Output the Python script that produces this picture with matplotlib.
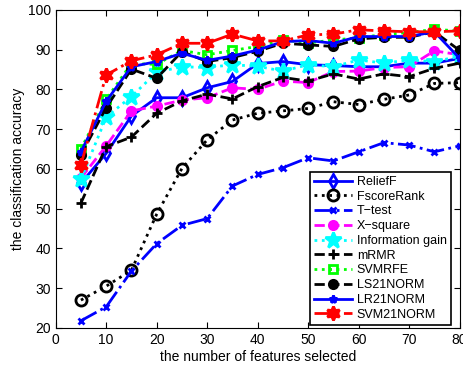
import matplotlib
matplotlib.use("Agg")
import matplotlib.pyplot as plt

plt.rcParams["font.family"] = ["Liberation Sans", "DejaVu Sans"]

n_features = [5, 10, 15, 20, 25, 30, 35, 40, 45, 50, 55, 60, 65, 70, 75, 80]

relieff = [56.4, 63.9, 73.3, 77.9, 77.9, 80.4, 82.0, 86.5, 87.0, 86.2, 86.0, 85.7, 85.7, 86.6, 86.6, 87.8]
fscore_rank = [27.0, 30.5, 34.5, 48.6, 60.1, 67.3, 72.3, 74.0, 74.6, 75.2, 76.9, 76.2, 77.5, 78.6, 81.5, 81.7]
t_test = [21.8, 25.3, 34.3, 41.2, 45.8, 47.5, 55.7, 58.6, 60.3, 62.8, 62.0, 64.3, 66.6, 66.0, 64.3, 65.8]
x_square = [57.7, 65.8, 74.6, 75.8, 77.3, 77.9, 80.4, 80.0, 82.1, 81.7, 84.5, 84.6, 85.5, 85.7, 89.7, 88.7]
info_gain = [57.4, 73.0, 78.2, 84.3, 85.7, 85.5, 86.2, 85.8, 84.6, 86.2, 85.7, 87.4, 86.6, 87.4, 87.0, 88.3]
mrmr = [51.4, 65.6, 68.0, 74.0, 77.1, 78.8, 77.6, 80.7, 83.0, 82.1, 83.9, 82.6, 83.9, 83.2, 85.3, 86.6]
svmrfe = [65.0, 77.5, 86.5, 86.3, 89.8, 88.7, 89.8, 90.8, 92.4, 91.7, 92.4, 93.0, 93.8, 94.3, 95.1, 94.7]
ls21norm = [63.5, 75.4, 85.1, 82.8, 89.5, 87.0, 88.0, 89.6, 91.6, 91.2, 90.8, 92.7, 93.1, 93.1, 94.5, 89.8]
lr21norm = [64.3, 77.0, 85.7, 87.0, 89.1, 87.3, 88.4, 89.9, 92.0, 92.3, 91.6, 93.3, 93.3, 93.3, 94.5, 87.8]
svm21norm = [61.0, 83.6, 87.2, 88.7, 91.6, 91.6, 93.9, 92.2, 92.2, 93.7, 93.9, 95.0, 94.7, 94.5, 94.5, 94.7]

hexagram = (6, 1, 0)

# name, values, color, linestyle, marker, size, filled
SERIES = [
    ("ReliefF", relieff, "#0000FF", "-", "d", 7, False),
    ("FscoreRank", fscore_rank, "black", ":", "o", 8, False),
    ("T\u2212test", t_test, "#0000FF", "-.", "x", 5, True),
    ("X\u2212square", x_square, "#FF00FF", "--", "o", 6, True),
    ("Information gain", info_gain, "#00FFFF", ":", "*", 12, True),
    ("mRMR", mrmr, "black", "--", "+", 7, True),
    ("SVMRFE", svmrfe, "#00FF00", ":", "s", 6, False),
    ("LS21NORM", ls21norm, "black", "--", "o", 6, True),
    ("LR21NORM", lr21norm, "#0000FF", "-", "*", 6, True),
    ("SVM21NORM", svm21norm, "#FF0000", "-.", hexagram, 10, True),
]

fig = plt.figure(figsize=(4.64, 3.66), dpi=100)
ax = fig.add_axes([0.12, 0.104, 0.8705, 0.869])

for name, vals, color, ls, marker, size, filled in SERIES:
    ax.plot(n_features, vals, label=name, color=color, linestyle=ls,
            linewidth=2, marker=marker, markersize=size,
            markerfacecolor=color if filled else "none",
            markeredgecolor=color, markeredgewidth=2)

ax.set_xlim(0, 80)
ax.set_ylim(20, 100)
ax.set_xticks(range(0, 81, 10))
ax.set_yticks(range(20, 101, 10))
ax.tick_params(direction="in", top=True, right=True, labelsize=10, length=4)
ax.set_xlabel("the number of features selected", fontsize=10, labelpad=2)
ax.set_ylabel("the classification accuracy", fontsize=10, labelpad=2)

leg = ax.legend(loc="lower right", bbox_to_anchor=(0.979, 0.009),
                fontsize=9, numpoints=1, handlelength=3.0,
                handletextpad=0.4, labelspacing=0.22, borderaxespad=0,
                fancybox=False, framealpha=1, edgecolor="black",
                borderpad=0.35)
leg.get_frame().set_linewidth(1.2)

fig.savefig("out.png")
